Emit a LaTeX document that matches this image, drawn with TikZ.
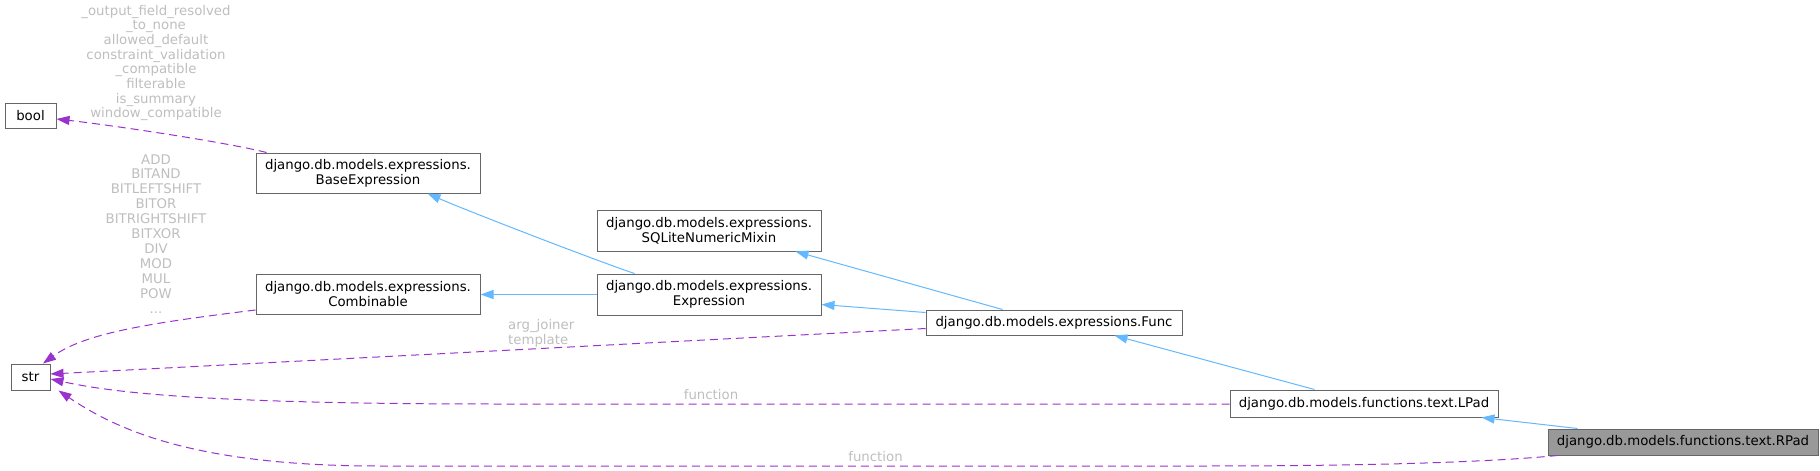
\documentclass[tikz,border=0pt]{standalone}
\usepackage{fontspec}
\setmainfont{DejaVu Sans}
\usetikzlibrary{arrows.meta,calc}
\definecolor{boxgray}{HTML}{666666}
\definecolor{rootfill}{HTML}{999999}
\definecolor{inhblue}{HTML}{63B8FF}
\definecolor{usepurple}{HTML}{9A32CD}
\definecolor{lblgray}{HTML}{BEBEBE}
\newcommand{\nodefont}{\fontsize{13.3}{15}\selectfont}
\newcommand{\lblfont}{\fontsize{13.3}{14.7}\selectfont}
\begin{document}
\begin{tikzpicture}[x=1pt,y=-1pt,
  box/.style={draw=boxgray, fill=white, inner sep=0pt, align=center, font=\nodefont, line width=1pt, text=black},
  inh/.style={draw=inhblue, line width=1pt, -{Triangle[length=13pt,width=9pt,fill=inhblue]}},
  use/.style={draw=usepurple, line width=1pt, dash pattern=on 8pt off 5pt, -{Triangle[length=13pt,width=9pt,fill=usepurple]}},
  lbl/.style={text=lblgray, font=\lblfont, align=center, inner sep=0pt}]
\useasboundingbox (0,0) rectangle (1820,471);
% nodes
\node[box, minimum width=51pt, minimum height=25pt] (bool) at (30.5,115.5) {bool};
\node[box, minimum width=224pt, minimum height=40pt] (be) at (368,173) {django.db.models.expressions.\\BaseExpression};
\node[box, minimum width=224pt, minimum height=40pt] (comb) at (368,294) {django.db.models.expressions.\\Combinable};
\node[box, minimum width=39pt, minimum height=26pt] (str) at (30.5,377) {str};
\node[box, minimum width=224pt, minimum height=41pt] (sql) at (709,230.5) {django.db.models.expressions.\\SQLiteNumericMixin};
\node[box, minimum width=224pt, minimum height=41pt] (expr) at (709,294.5) {django.db.models.expressions.\\Expression};
\node[box, minimum width=256pt, minimum height=25pt] (func) at (1054,322.5) {django.db.models.expressions.Func};
\node[box, minimum width=268pt, minimum height=27pt] (lpad) at (1364,403.5) {django.db.models.functions.text.LPad};
\node[box, fill=rootfill, minimum width=270pt, minimum height=26pt] (rpad) at (1683,442) {django.db.models.functions.text.RPad};
% labels
\node[lbl] (lbool) at (156,63) {\_output\_field\_resolved\\\_to\_none\\allowed\_default\\constraint\_validation\\\_compatible\\filterable\\is\_summary\\window\_compatible};
\node[lbl, font=\fontsize{13.3}{14.9}\selectfont] (lstr) at (156,233.7) {ADD\\BITAND\\BITLEFTSHIFT\\BITOR\\BITRIGHTSHIFT\\BITXOR\\DIV\\MOD\\MUL\\POW\\...};
\node[lbl, align=left, anchor=west] (lfunc) at (508,333.5) {arg\_joiner\\template};
\node[lbl] (llpad) at (711,395) {function};
\node[lbl] (lrpad) at (875.5,456.7) {function};
% usage edges
\draw[use] ($(be.north west)+(11,0)$) .. controls (225,142) and (110,125) .. ($(bool.east)+(0,3.5)$);
\draw[use] ($(comb.west)+(0,16)$) .. controls (150,323) and (85,333) .. ($(str.north)+(12.5,0)$);
\draw[use] ($(func.west)+(0,6)$) -- ($(str.east)+(0,-3)$);
\draw[use] ($(lpad.west)+(0,0.5)$) -- (500,404) .. controls (200,404) and (110,392) .. ($(str.east)+(0,2)$);
\draw[use] ($(rpad.south west)+(10,0)$) .. controls (1480,463) and (1350,466) .. (1200,466) -- (380,466) .. controls (200,466) and (120,432) .. ($(str.south east)+(8,0)$);
% inheritance edges
\draw[inh] ($(expr.north west)+(38,0)$) .. controls (600,262) and (470,212) .. ($(be.south east)+(-53,0)$);
\draw[inh] (expr.west) -- (expr.west -| comb.east);
\draw[inh] ($(func.north west)+(77,0)$) -- ($(sql.south east)+(-26,0)$);
\draw[inh] ($(func.north west)+(0,3)$) -- ($(expr.east)+(0,10)$);
\draw[inh] ($(lpad.north west)+(85,0)$) -- ($(func.south east)+(-68,0)$);
\draw[inh] ($(rpad.north west)+(30,0)$) -- ($(lpad.south east)+(-17,0)$);
\end{tikzpicture}
\end{document}
